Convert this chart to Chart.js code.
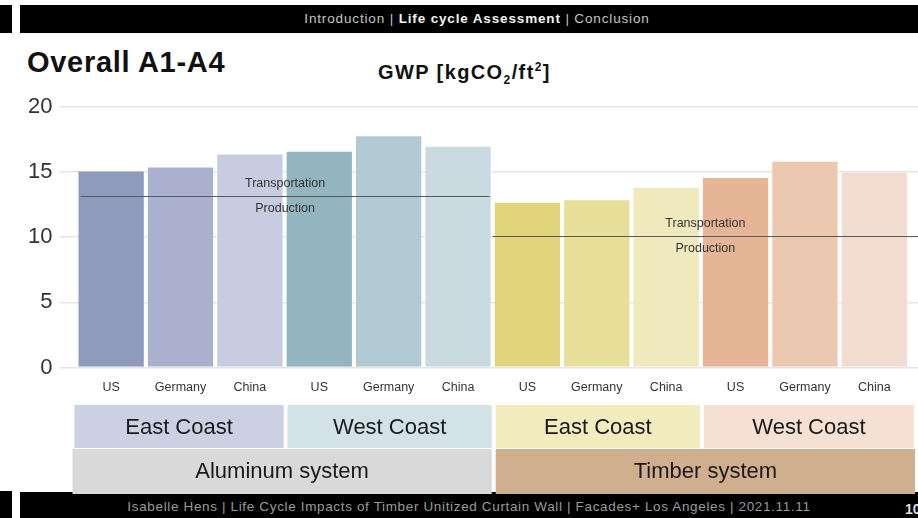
<!DOCTYPE html>
<html>
<head>
<meta charset="utf-8">
<script src="https://cdn.jsdelivr.net/npm/chart.js@4/dist/chart.umd.min.js"></script>
<style>
  html, body { margin:0; padding:0; width:918px; height:518px; overflow:hidden; background:#fff; font-family:"Liberation Sans", Arial, sans-serif; }
  .blk { position:absolute; background:#000; }
  #topbar { left:20px; top:5px; width:898px; height:28px; color:#c4c4c4; font-size:13.5px; line-height:28px; text-align:center; padding-left:16px; box-sizing:border-box; letter-spacing:0.85px; }
  #topbar b { color:#f2f2f2; }
  #botbar { left:20px; top:492px; width:898px; height:26px; color:#9a9a9a; font-size:13.5px; line-height:30px; text-align:center; letter-spacing:0.65px; }
  #pnum { position:absolute; left:905px; top:501px; color:#ddd; font-weight:bold; font-size:14px; }
  #title { position:absolute; left:27px; top:46px; font-size:29px; font-weight:bold; color:#111; letter-spacing:0.7px; }
  #sub { position:absolute; left:378px; top:60px; font-size:20px; font-weight:bold; color:#111; letter-spacing:1.4px; }
  #sub sub, #sub sup { font-size:12px; }
  canvas { position:absolute; left:0; top:0; }
</style>
</head>
<body>
<div class="blk" style="left:0;top:5px;width:12px;height:28px;"></div>
<div class="blk" id="topbar">Introduction | <b>Life cycle Assessment</b> | Conclusion</div>
<div class="blk" style="left:0;top:491px;width:12px;height:27px;"></div>
<div class="blk" id="botbar">Isabelle Hens | Life Cycle Impacts of Timber Unitized Curtain Wall | Facades+ Los Angeles | 2021.11.11</div>
<div id="pnum">10</div>
<div id="title">Overall A1-A4</div>
<div id="sub">GWP [kgCO<sub>2</sub>/ft<sup>2</sup>]</div>
<canvas id="c" width="918" height="518"></canvas>
<script>
// ---- data ----
const categories = ['US','Germany','China','US','Germany','China','US','Germany','China','US','Germany','China'];
const gwpValues = [15.1, 15.4, 16.4, 16.6, 17.8, 17.0, 12.7, 12.9, 13.85, 14.6, 15.85, 15.0];
const barColors = ['#8e9bbd','#a9b1cf','#c7cce0','#93b5bf','#b1c9d2','#c9dbe1','#e2d47a','#e8df9b','#efe9bd','#e6b596','#ecc8b1','#f2dccf'];
const yTicks = [0, 5, 10, 15, 20];

const regionLabels = ['East Coast','West Coast','East Coast','West Coast'];
const regionFirst = [0, 3, 6, 9];
const regionLast = [2, 5, 8, 11];
const regionColors = ['#cbd0e2','#d3e2e6','#f1ebbd','#f6dfd3'];

const systemLabels = ['Aluminum system','Timber system'];
const systemFirst = [0, 6];
const systemLast = [5, 11];
const systemColors = ['#d9d9d9','#d0af8f'];
const transportLevel = [13.15, 10.05];
const lineUpper = 'Transportation';
const lineLower = 'Production';

const FONT = '"Liberation Sans", Arial, sans-serif';

const overlay = {
  id: 'overlay',
  afterDatasetsDraw(chart) {
    const ctx = chart.ctx, x = chart.scales.x, y = chart.scales.y;
    const half = (x.getPixelForValue(1) - x.getPixelForValue(0)) / 2;
    ctx.save();
    systemFirst.forEach((f, i) => {
      const last = i === systemFirst.length - 1;
      const l = x.getPixelForValue(f) - half + (last ? 0 : 4);
      const r = last ? chart.width : x.getPixelForValue(systemLast[i]) + half - 3;
      const py = Math.round(y.getPixelForValue(transportLevel[i])) + 0.5;
      ctx.strokeStyle = '#5a5a5a';
      ctx.lineWidth = 1;
      ctx.beginPath(); ctx.moveTo(l, py); ctx.lineTo(r, py); ctx.stroke();
      const cx = (l + r) / 2;
      ctx.fillStyle = '#333';
      ctx.font = '12.5px ' + FONT;
      ctx.textAlign = 'center'; ctx.textBaseline = 'middle';
      ctx.fillText(lineUpper, cx, py - 12.5);
      ctx.fillText(lineLower, cx, py + 12);
    });
    ctx.restore();
  },
  afterDraw(chart) {
    const ctx = chart.ctx, x = chart.scales.x;
    const half = (x.getPixelForValue(1) - x.getPixelForValue(0)) / 2;
    ctx.save();
    ctx.textAlign = 'center'; ctx.textBaseline = 'middle';
    regionFirst.forEach((f, i) => {
      const l = x.getPixelForValue(f) - half + (i === 0 ? -2 : 3);
      const r = x.getPixelForValue(regionLast[i]) + half + (i === regionFirst.length - 1 ? 5 : -1);
      ctx.fillStyle = regionColors[i];
      ctx.fillRect(l, 405, r - l, 43);
      ctx.fillStyle = '#1a1a1a';
      ctx.font = '22px ' + FONT;
      ctx.fillText(regionLabels[i], (l + r) / 2, 428);
    });
    systemFirst.forEach((f, i) => {
      const l = x.getPixelForValue(f) - half + (i ? 3 : -4);
      const r = x.getPixelForValue(systemLast[i]) + half + (i ? 6 : -1);
      ctx.fillStyle = systemColors[i];
      ctx.fillRect(l, 449, r - l, 45);
      ctx.fillStyle = '#1a1a1a';
      ctx.font = '22px ' + FONT;
      ctx.fillText(systemLabels[i], (l + r) / 2, 472);
    });
    ctx.restore();
  }
};

new Chart(document.getElementById('c'), {
  type: 'bar',
  data: {
    labels: categories,
    datasets: [{
      data: gwpValues,
      backgroundColor: barColors,
      borderColor: 'rgba(255,255,255,0.35)',
      borderWidth: 1,
      categoryPercentage: 1.0,
      barPercentage: 0.97
    }]
  },
  options: {
    responsive: false,
    animation: false,
    devicePixelRatio: 1,
    layout: { padding: { left: 21, right: 0, top: 106.5, bottom: 110.5 } },
    plugins: { legend: { display: false }, tooltip: { enabled: false }, title: { display: false } },
    scales: {
      x: {
        grid: { display: false, drawTicks: false },
        border: { display: false },
        ticks: { color: '#333', font: { size: 12.5, family: FONT }, padding: 12.5, maxRotation: 0, autoSkip: false }
      },
      y: {
        min: 0, max: 20,
        z: 1,
        afterBuildTicks: (s) => { s.ticks = yTicks.map(v => ({ value: v })); },
        ticks: { color: '#333', font: { size: 22, family: FONT }, padding: 7 },
        grid: { color: 'rgba(190,190,190,0.4)', lineWidth: 1.5, tickLength: 17 },
        border: { display: false }
      },
      y2: {
        position: 'right',
        min: 0, max: 20,
        afterBuildTicks: (s) => { s.ticks = yTicks.map(v => ({ value: v })); },
        ticks: { display: false },
        grid: { drawOnChartArea: false, color: 'rgba(190,190,190,0.4)', lineWidth: 1.5, tickLength: 9 },
        border: { display: false }
      }
    }
  },
  plugins: [overlay]
});
</script>
</body>
</html>
